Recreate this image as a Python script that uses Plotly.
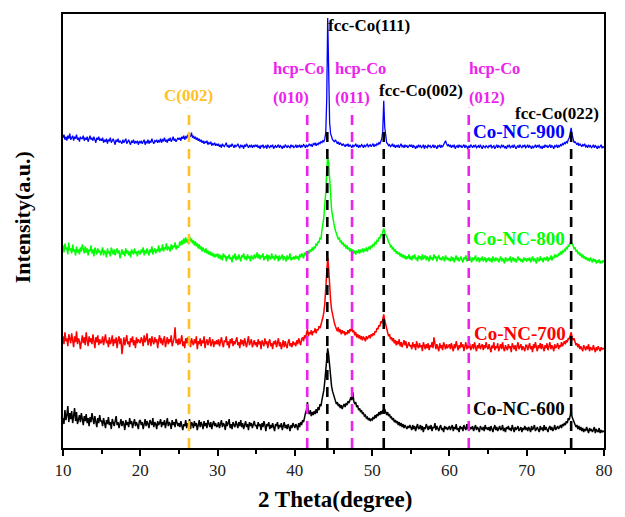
import numpy as np
import plotly.graph_objects as go

# 2-theta grid (degrees), 0.125 deg step from 10 to 80
two_theta = np.arange(10, 80.001, 0.125)

# Intensities (a.u., stacked offsets as in the figure); two lines = 5 degrees
co_nc_900 = [
    311,314,309,312,308,313,310,315,309,311,313,308,312,310,314,309,311,307,312,310,
    310,313,308,311,309,312,307,310,313,309,311,308,312,309,306,311,309,312,308,310,
    308,311,306,309,307,310,305,309,308,311,306,308,310,307,304,309,307,310,306,308,
    307,305,309,306,308,310,305,307,309,306,304,308,306,309,305,307,306,308,304,307,
    306,308,305,307,309,304,307,306,309,305,308,306,310,307,305,308,307,309,306,308,
    307,310,306,309,308,311,307,309,306,310,308,311,307,309,312,308,310,307,309,311,
    309,311,308,312,310,313,309,312,311,314,310,313,312,316,311,313,310,312,309,311,
    308,310,307,309,306,308,305,307,306,308,304,306,305,307,303,305,304,306,303,305,
    303,305,302,304,301,305,303,302,304,306,302,303,301,304,302,305,303,301,304,302,
    303,305,302,301,304,302,303,300,304,302,305,303,301,303,302,304,301,303,302,304,
    302,304,301,303,300,303,302,304,301,302,303,300,304,302,301,303,302,304,300,302,
    303,301,302,304,301,303,302,300,303,301,304,302,301,303,302,301,304,302,303,301,
    302,304,301,303,302,304,301,303,302,304,303,301,304,302,303,305,303,304,302,305,
    304,306,303,305,304,306,305,307,306,308,307,310,316,350,431,380,326,315,311,309,
    308,307,309,306,305,307,304,306,305,303,305,304,302,304,303,305,302,304,303,301,
    304,302,303,305,302,304,301,303,302,304,303,301,304,302,303,305,302,303,304,302,
    303,305,302,304,303,305,304,306,305,308,310,318,348,322,310,306,305,303,304,302,
    303,305,302,304,301,303,302,304,301,303,305,302,303,301,304,302,303,301,302,304,
    302,304,301,303,302,300,303,301,304,302,303,301,302,304,300,303,302,301,304,302,
    303,301,302,304,301,303,302,300,303,302,304,301,303,302,304,306,308,305,303,304,
    302,304,301,303,302,304,300,302,303,301,304,302,303,301,302,304,301,303,302,300,
    303,301,304,302,301,303,302,304,301,302,303,301,304,302,300,303,302,301,303,302,
    301,303,302,304,301,302,303,300,302,304,301,303,302,301,304,302,303,301,302,300,
    303,302,304,301,302,303,301,304,302,300,302,303,301,304,302,301,303,302,304,301,
    302,304,301,303,302,300,303,301,302,304,301,303,302,304,301,302,300,303,301,304,
    302,303,301,302,304,301,303,302,300,303,302,304,301,303,302,304,303,305,304,306,
    305,307,306,309,311,315,321,314,309,306,307,305,304,306,303,305,304,302,304,303,
    305,302,303,301,304,302,303,301,302,304,301,303,302,300,303,301,302,304,301,302,
    301,
]

co_nc_800 = [
    203,196,205,199,201,194,206,198,200,195,204,197,199,193,202,196,199,194,201,197,
    204,198,195,202,196,200,193,199,197,203,195,199,192,201,197,194,200,196,198,193,
    197,201,193,198,196,191,200,195,197,192,201,196,194,199,193,197,200,195,198,190,
    196,199,194,197,192,200,195,198,193,197,191,199,196,194,200,195,197,192,198,196,
    194,199,196,201,193,198,195,200,197,193,199,196,202,194,198,200,195,199,197,203,
    196,200,198,204,197,201,199,205,198,202,200,197,204,199,203,201,206,199,203,201,
    202,207,203,208,204,210,205,211,206,209,204,212,207,210,205,208,203,207,202,205,
    200,204,199,202,197,201,198,196,200,195,198,194,197,193,196,192,195,191,194,192,
    195,190,194,189,193,188,195,191,193,187,192,190,194,189,191,186,193,190,195,188,
    192,189,194,190,187,193,191,195,189,192,188,194,190,192,187,193,191,189,194,190,
    192,196,190,194,189,193,191,195,188,192,190,194,187,193,191,189,195,190,192,188,
    194,190,192,187,193,189,191,194,188,192,190,187,193,189,191,195,188,191,189,192,
    189,193,190,192,188,194,191,195,193,190,196,193,197,194,198,195,199,197,201,198,
    202,200,205,203,207,206,211,209,218,225,231,244,256,279,291,286,266,255,239,233,
    226,222,218,215,213,209,211,206,208,204,206,202,204,200,203,199,201,197,200,196,
    199,195,198,194,197,196,199,195,198,197,200,196,199,198,201,197,200,202,199,203,
    201,204,203,206,205,208,207,211,210,214,213,217,220,216,214,211,210,206,205,202,
    203,199,201,197,199,195,197,194,196,192,195,191,194,190,193,189,192,190,194,189,
    192,188,193,190,194,189,191,187,193,190,192,188,194,189,191,193,188,192,190,187,
    193,189,191,188,194,190,192,187,191,193,189,190,188,192,190,187,193,189,191,188,
    190,187,192,188,191,186,190,193,188,191,187,190,192,188,186,191,189,193,187,190,
    188,192,189,186,191,188,190,193,187,189,191,186,190,188,192,187,189,191,186,190,
    188,191,187,190,186,192,189,187,191,188,190,186,189,192,187,190,188,185,191,189,
    187,190,188,192,186,189,191,187,190,186,189,192,188,190,187,189,186,191,188,190,
    187,190,188,191,186,189,192,187,190,188,185,191,189,187,192,188,190,186,191,189,
    188,192,187,190,189,193,188,191,190,194,191,193,192,195,193,197,194,198,196,199,
    198,201,200,203,202,206,207,204,203,200,201,197,198,195,196,193,195,191,194,190,
    192,189,191,188,190,187,191,188,186,190,187,189,185,188,186,189,185,187,186,188,
    186,
]

co_nc_700 = [
    112,104,116,107,110,102,114,108,105,115,109,101,112,106,117,104,110,107,99,109,
    113,105,111,103,116,108,102,112,106,110,104,114,107,100,111,106,113,103,109,105,
    106,112,103,109,114,105,108,101,111,104,107,113,102,109,105,111,100,108,112,104,
    110,94,106,111,103,109,113,104,107,101,110,106,112,103,108,100,111,105,109,107,
    105,111,108,102,113,106,109,115,103,108,110,102,112,107,104,111,106,109,100,108,
    113,105,110,103,108,112,101,107,111,104,109,106,113,102,108,110,121,105,109,103,
    110,104,108,113,102,107,100,110,105,111,104,108,101,110,106,103,109,105,112,99,
    107,104,110,102,108,105,112,100,106,109,103,107,111,102,105,109,101,107,104,108,
    104,109,102,107,111,105,101,108,106,112,103,107,100,109,105,110,102,107,104,108,
    111,103,106,100,109,104,108,102,110,105,101,107,112,103,106,109,101,105,108,103,
    106,101,109,104,107,99,108,105,102,110,104,107,100,106,109,102,105,99,107,104,
    108,101,105,110,102,106,99,104,108,101,107,103,100,106,109,102,105,101,107,104,
    105,102,108,104,110,106,103,109,111,107,113,110,115,119,112,116,114,118,113,117,
    116,120,115,119,118,122,120,125,127,131,136,145,158,176,191,180,160,148,139,133,
    129,125,122,120,117,121,116,119,114,118,115,117,113,116,114,118,115,119,117,122,
    116,118,113,116,111,114,110,113,109,112,108,111,110,107,112,109,111,113,110,114,
    112,115,113,117,116,120,119,123,122,127,125,130,134,128,123,119,116,112,114,109,
    111,107,110,105,108,103,107,104,109,102,106,101,105,108,103,107,100,104,106,102,
    103,99,106,101,104,98,107,102,100,105,101,103,97,106,102,99,104,100,105,98,
    103,101,106,100,111,102,99,104,101,97,105,100,103,98,106,101,99,104,100,102,
    104,99,105,101,97,104,100,107,102,98,103,100,106,101,104,97,102,106,99,103,
    100,105,98,102,104,99,106,101,97,103,100,105,99,102,104,98,103,100,106,101,
    99,104,101,96,103,100,106,98,102,100,105,97,101,104,99,106,100,97,103,101,
    98,104,100,102,96,105,101,99,103,97,102,106,99,101,104,98,102,100,97,103,
    103,98,101,105,99,102,96,104,100,106,101,97,103,100,105,99,104,101,97,103,
    100,105,98,102,106,99,103,101,97,104,100,102,105,99,103,101,106,102,104,107,
    104,108,106,110,109,113,116,111,108,110,106,103,105,101,104,99,102,100,97,103,
    101,98,102,99,104,97,101,100,98,103,99,96,101,98,102,100,97,101,99,100,
    99,
]

co_nc_600 = [
    30,24,38,28,33,42,26,35,29,37,25,31,40,27,36,24,30,33,26,35,
    29,23,32,27,34,25,30,22,31,26,35,28,24,32,27,21,30,25,33,27,
    27,22,30,25,20,28,24,31,23,26,19,29,25,22,27,32,23,26,20,25,
    29,22,27,24,18,28,23,26,21,30,24,27,20,25,29,22,26,23,19,27,
    28,23,26,19,25,29,22,27,24,20,28,25,23,30,21,26,24,19,27,23,
    25,29,21,26,23,28,20,25,30,22,26,24,19,28,23,26,21,29,24,22,
    25,21,27,23,18,24,22,28,20,25,23,29,19,26,24,20,27,22,25,18,
    24,28,21,26,23,19,27,22,25,20,28,23,21,26,19,24,27,22,25,21,
    22,26,20,24,28,21,25,23,18,27,22,25,29,20,24,19,26,23,21,27,
    24,20,26,22,28,21,25,19,23,27,21,24,18,26,22,25,20,24,27,22,
    23,19,26,22,24,18,25,21,27,23,17,24,22,26,19,23,20,25,21,17,
    24,22,26,19,23,21,25,18,22,26,20,23,19,24,21,17,23,20,25,21,
    20,24,22,18,25,21,26,23,28,26,32,35,38,46,36,34,38,32,36,33,
    37,34,39,35,41,38,44,42,48,52,58,67,78,90,100,93,80,70,62,57,
    53,49,47,44,46,42,44,40,43,39,42,44,41,45,43,47,45,49,51,48,
    56,47,44,46,41,43,38,40,36,38,34,35,32,33,30,31,28,30,27,29,
    28,31,29,33,30,34,32,36,33,37,34,38,36,39,35,33,36,32,34,30,
    31,28,30,26,28,25,27,23,26,22,25,21,24,20,23,21,19,22,20,23,
    21,18,23,19,22,17,21,24,19,20,23,18,22,16,21,19,24,20,18,22,
    19,23,17,21,20,25,18,22,19,17,21,23,18,20,16,22,19,21,18,20,
    22,18,20,23,17,21,19,24,18,20,16,22,19,21,17,23,20,18,24,19,
    25,18,21,19,22,17,20,23,18,21,19,16,22,20,18,21,17,23,19,20,
    18,21,17,22,19,16,20,23,18,21,17,20,22,18,19,23,17,20,16,21,
    19,22,18,20,17,23,19,16,21,18,20,22,17,19,21,16,20,18,22,19,
    20,17,21,19,16,22,18,20,23,17,19,21,18,16,22,19,20,17,23,18,
    21,19,16,20,22,18,21,17,19,23,18,20,22,19,21,23,20,24,22,25,
    23,27,25,30,28,33,37,31,28,26,24,21,23,19,22,18,21,17,20,16,
    19,17,21,18,15,20,17,19,16,18,21,15,19,17,16,20,15,18,16,17,
    16,
]

series_names = ["Co-NC-600", "Co-NC-700", "Co-NC-800", "Co-NC-900"]
series_colors = ["#000000", "#FF0000", "#00FF00", "#0000FF"]
series_widths = [1.5, 1.5, 1.5, 1.3]
series_values = [co_nc_600, co_nc_700, co_nc_800, co_nc_900]
for v in series_values:
    assert len(v) == len(two_theta), (len(v), len(two_theta))

# Reference reflections (2-theta positions) and their marker colours
ref_positions = [26.3, 41.6, 44.2, 47.4, 51.5, 62.5, 75.75]
ref_colors = ["#FFC125", "#EE22EE", "#000000", "#EE22EE", "#000000", "#EE22EE", "#000000"]
ref_tops = [341, 341, 318, 341, 318, 341, 320]

FONT = "Liberation Serif, Times New Roman, serif"
L, R, T, B = 63, 613, 13, 448
W, H = 625, 517


def px_to_paper(px, py):
    return (px - L) / (R - L), (B - py) / (B - T)


fig = go.Figure()
for name, color, wd, vals in zip(series_names, series_colors, series_widths, series_values):
    fig.add_trace(go.Scatter(x=two_theta, y=vals, mode="lines", name=name,
                             line=dict(color=color, width=wd), showlegend=False))

for pos, col, top in zip(ref_positions, ref_colors, ref_tops):
    fig.add_shape(type="line", xref="x", yref="y", x0=pos, x1=pos, y0=0, y1=top,
                  line=dict(color=col, width=2.6, dash="10px,7px"), layer="above")

# text labels: (text, colour, size, px center x, px center y)
labels = [
    ("C(002)", "#FFC125", 17, 191, 95),
    ("hcp-Co", "#EE22EE", 16.5, 302, 68),
    ("(010)", "#EE22EE", 16.5, 295, 97),
    ("hcp-Co", "#EE22EE", 16.5, 365, 68),
    ("(011)", "#EE22EE", 16.5, 357, 97),
    ("hcp-Co", "#EE22EE", 16.5, 502, 68),
    ("(012)", "#EE22EE", 16.5, 494, 97),
    ("fcc-Co(111)", "#000000", 17, 374, 25),
    ("fcc-Co(002)", "#000000", 17, 427, 90),
    ("fcc-Co(022)", "#000000", 17, 565, 113),
    ("Co-NC-900", "#0000FF", 19, 527, 131),
    ("Co-NC-800", "#00FF00", 19, 527, 238),
    ("Co-NC-700", "#FF0000", 19, 528, 333),
    ("Co-NC-600", "#000000", 19, 527, 408),
]
for text, col, size, px, py in labels:
    xp, yp = px_to_paper(px, py)
    fig.add_annotation(x=xp, y=yp, xref="paper", yref="paper", text=text, showarrow=False,
                       xanchor="center", yanchor="middle",
                       font=dict(family=FONT, size=size, color=col, weight="bold"))

# axis titles
xp, yp = px_to_paper(340, 500)
fig.add_annotation(x=xp, y=yp, xref="paper", yref="paper", text="2 Theta(degree)",
                   showarrow=False, xanchor="center", yanchor="middle",
                   font=dict(family=FONT, size=23, color="#000000", weight="bold"))
xp, yp = px_to_paper(22, 217)
fig.add_annotation(x=xp, y=yp, xref="paper", yref="paper", text="Intensity(a.u.)",
                   showarrow=False, xanchor="center", yanchor="middle", textangle=-90,
                   font=dict(family=FONT, size=22, color="#000000", weight="bold"))

fig.update_layout(
    width=W, height=H,
    margin=dict(l=L, r=W - R, t=T, b=H - B),
    paper_bgcolor="white", plot_bgcolor="white",
    xaxis=dict(range=[10, 80], tickvals=[10, 20, 30, 40, 50, 60, 70, 80],
               ticks="outside", ticklen=6, tickwidth=1.5, tickcolor="#000",
               showline=True, linecolor="#000", linewidth=1.6, mirror=True,
               showgrid=False, zeroline=False,
               tickfont=dict(family=FONT, size=17, color="#222"),
               minor=dict(ticks="outside", ticklen=4, tickwidth=1.5, tickcolor="#000",
                          tickvals=[15, 25, 35, 45, 55, 65, 75], showgrid=False)),
    yaxis=dict(range=[0, 435], showticklabels=False, ticks="",
               showline=True, linecolor="#000", linewidth=1.6, mirror=True,
               showgrid=False, zeroline=False),
)

fig.write_html("out.html")
